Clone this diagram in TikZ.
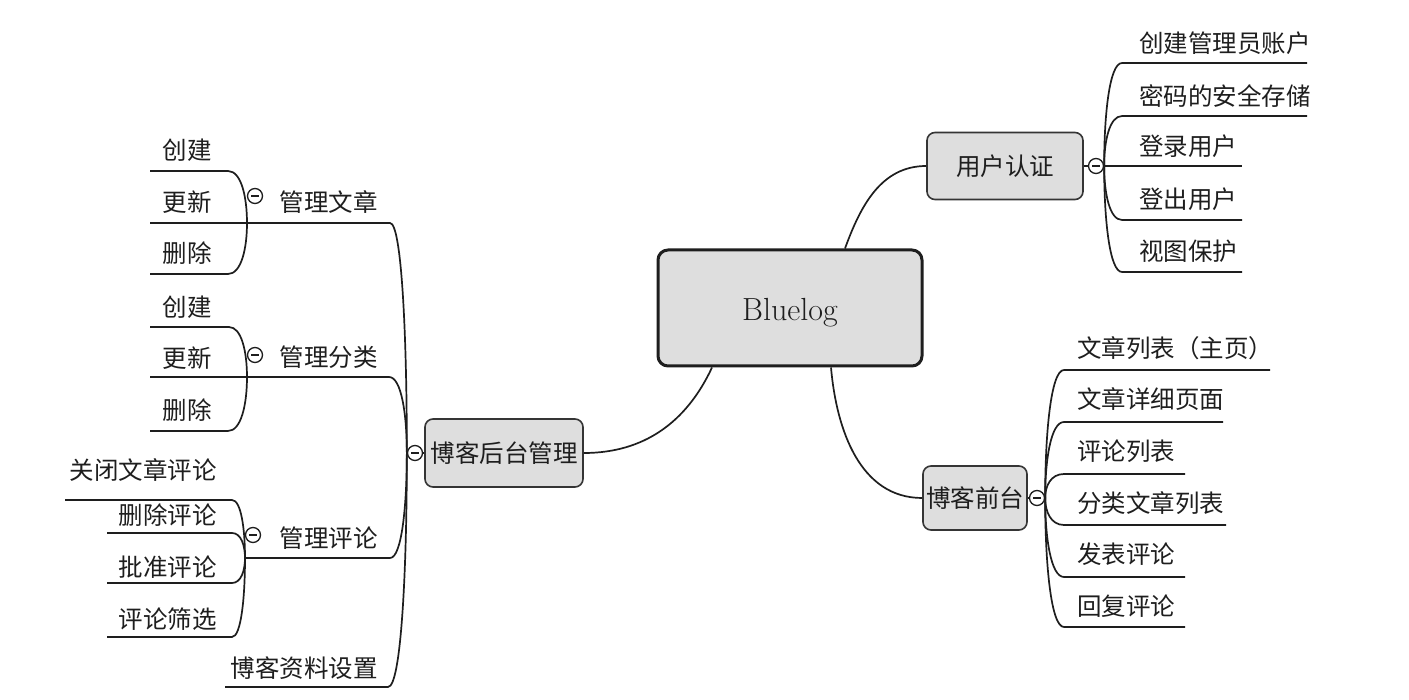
\documentclass[tikz,border=0pt]{standalone}
\usepackage{fontspec}
\newfontfamily\cjk{Noto Sans CJK SC}
\usetikzlibrary{calc}
\definecolor{boxgray}{RGB}{222,222,222}
\definecolor{ink}{RGB}{30,30,30}
\tikzset{
  ln/.style={draw=ink, line width=1.7pt},
  br/.style={to path={.. controls ($(\tikztostart)!0.5!(\tikztostart|-\tikztotarget)$) and ($(\tikztostart|-\tikztotarget)!0.3!(\tikztotarget)$) .. (\tikztotarget) \tikztonodes}},
  tx/.style={inner sep=0pt, text height=18.6pt, text depth=0pt, text=ink, font=\cjk\fontsize{24.5}{28}\selectfont},
  box/.style={rounded corners=8pt, draw=ink!90, line width=1.6pt, fill=boxgray, inner sep=0pt, text height=18.6pt, text depth=0pt, text=ink, font=\cjk\fontsize{24.5}{28}\selectfont},
  bigbox/.style={rounded corners=10pt, draw=ink, line width=3pt, fill=boxgray, inner sep=0pt, minimum width=264pt, minimum height=116pt, text height=25pt, text depth=0pt, text=ink, font=\fontsize{32}{38}\selectfont},
  fold/.style={circle, draw=ink, line width=1.3pt, fill=white, minimum size=15pt, inner sep=0pt,
    path picture={\draw[ink, line width=1.3pt] ([xshift=3.5pt]path picture bounding box.west) -- ([xshift=-3.5pt]path picture bounding box.east);}}
}
\begin{document}
\begin{tikzpicture}[x=1pt, y=-1pt]
\useasboundingbox (0,0) rectangle (1409,700);
\fill[white] (0,0) rectangle (1409,700);

% main nodes
\node[bigbox] (bl) at (790,308) {Bluelog};
\node[box, minimum width=156pt, minimum height=67pt] (ua) at (1005,166) {用户认证};
\node[box, minimum width=104pt, minimum height=64pt] (fq) at (975,498) {博客前台};
\node[box, minimum width=158pt, minimum height=68pt] (hl) at (504,453) {博客后台管理};

% fold markers
\node[fold] (ku) at (1096,166) {};
\node[fold] (kq) at (1037,498) {};
\node[fold] (kh) at (415,453) {};
\node[fold] (k1) at (255,196) {};
\node[fold] (k2) at (255,355) {};
\node[fold] (k3) at (253,535) {};

% main connectors
\draw[ln] ([xshift=55pt]bl.north) to[out=70,in=180] (ua.west);
\draw[ln] ([xshift=-78pt]bl.south) to[out=-115,in=0] (hl.east);
\draw[ln] ([xshift=41pt]bl.south) to[out=-85,in=180] (fq.west);
\draw[ln] (ua.east) -- (ku.west);
\draw[ln] (fq.east) -- (kq.west);
\draw[ln] (hl.west) -- (kh.east);

% ---------- 用户认证 ----------
\coordinate (u1a) at (1122,63);  \coordinate (u1b) at (1307,63);
\coordinate (u2a) at (1122,116); \coordinate (u2b) at (1307,116);
\coordinate (u3b) at (1242,166);
\coordinate (u4a) at (1122,220); \coordinate (u4b) at (1242,220);
\coordinate (u5a) at (1122,272); \coordinate (u5b) at (1242,272);
\draw[ln] (ku.east) to[br] (u1a) -- (u1b);
\draw[ln] (ku.east) to[br] (u2a) -- (u2b);
\draw[ln] (ku.east) -- (u3b);
\draw[ln] (ku.east) to[br] (u4a) -- (u4b);
\draw[ln] (ku.east) to[br] (u5a) -- (u5b);
\node[tx, anchor=west] (u1) at (1139,43) {创建管理员账户};
\node[tx, anchor=west] (u2) at (1139,96) {密码的安全存储};
\node[tx, anchor=west] (u3) at (1139,146) {登录用户};
\node[tx, anchor=west] (u4) at (1139,199) {登出用户};
\node[tx, anchor=west] (u5) at (1139,251) {视图保护};

% ---------- 博客前台 ----------
\coordinate (f1a) at (1064,370); \coordinate (f1b) at (1270,370);
\coordinate (f2a) at (1064,422); \coordinate (f2b) at (1223,422);
\coordinate (f3a) at (1064,474); \coordinate (f3b) at (1185,474);
\coordinate (f4a) at (1064,525); \coordinate (f4b) at (1226,525);
\coordinate (f5a) at (1064,577); \coordinate (f5b) at (1185,577);
\coordinate (f6a) at (1064,627); \coordinate (f6b) at (1185,627);
\foreach \i in {1,...,6}{\draw[ln] (kq.east) to[br] (f\i a) -- (f\i b);}
\node[tx, anchor=west] (f1) at (1077,348) {文章列表（主页）};
\node[tx, anchor=west] (f2) at (1077,399) {文章详细页面};
\node[tx, anchor=west] (f3) at (1077,451) {评论列表};
\node[tx, anchor=west] (f4) at (1077,503) {分类文章列表};
\node[tx, anchor=west] (f5) at (1077,554) {发表评论};
\node[tx, anchor=west] (f6) at (1077,606) {回复评论};

% ---------- 博客后台管理 ----------
% 管理文章
\coordinate (g1r) at (390,223); \coordinate (g1j) at (247,223);
\draw[ln] (kh.west) to[br] (g1r) -- (g1j);
\node[tx, anchor=east] (g1) at (378,202) {管理文章};
\coordinate (a1r) at (228,171); \coordinate (a1l) at (150,171);
\coordinate (a2l) at (150,223);
\coordinate (a3r) at (228,274); \coordinate (a3l) at (150,274);
\draw[ln] (g1j) to[br] (a1r) -- (a1l);
\draw[ln] (g1j) -- (a2l);
\draw[ln] (g1j) to[br] (a3r) -- (a3l);
\node[tx, anchor=east] (a1) at (212,150) {创建};
\node[tx, anchor=east] (a2) at (212,202) {更新};
\node[tx, anchor=east] (a3) at (212,253) {删除};

% 管理分类
\coordinate (g2r) at (389,377); \coordinate (g2j) at (247,377);
\draw[ln] (kh.west) to[br] (g2r) -- (g2j);
\node[tx, anchor=east] (g2) at (378,357) {管理分类};
\coordinate (b1r) at (229,327); \coordinate (b1l) at (150,327);
\coordinate (b2l) at (150,377);
\coordinate (b3r) at (228,431); \coordinate (b3l) at (150,431);
\draw[ln] (g2j) to[br] (b1r) -- (b1l);
\draw[ln] (g2j) -- (b2l);
\draw[ln] (g2j) to[br] (b3r) -- (b3l);
\node[tx, anchor=east] (b1) at (212,307) {创建};
\node[tx, anchor=east] (b2) at (212,358) {更新};
\node[tx, anchor=east] (b3) at (212,410) {删除};

% 管理评论
\coordinate (g3r) at (390,558); \coordinate (g3j) at (245,558);
\draw[ln] (kh.west) to[br] (g3r) -- (g3j);
\node[tx, anchor=east] (g3) at (378,538) {管理评论};
\coordinate (d1r) at (232,500); \coordinate (d1l) at (65,500);
\coordinate (d2r) at (232,533); \coordinate (d2l) at (107,533);
\coordinate (d3r) at (232,583); \coordinate (d3l) at (107,583);
\coordinate (d4r) at (232,637); \coordinate (d4l) at (107,637);
\foreach \i in {1,...,4}{\draw[ln] (g3j) to[br] (d\i r) -- (d\i l);}
\node[tx, anchor=east] (d1) at (217,470) {关闭文章评论};
\node[tx, anchor=east] (d2) at (217,515) {删除评论};
\node[tx, anchor=east] (d3) at (217,567) {批准评论};
\node[tx, anchor=east] (d4) at (217,619) {评论筛选};

% 博客资料设置
\coordinate (g4r) at (388,687); \coordinate (g4l) at (225,687);
\draw[ln] (kh.west) to[br] (g4r) -- (g4l);
\node[tx, anchor=east] (g4) at (378,668) {博客资料设置};
\end{tikzpicture}
\end{document}
